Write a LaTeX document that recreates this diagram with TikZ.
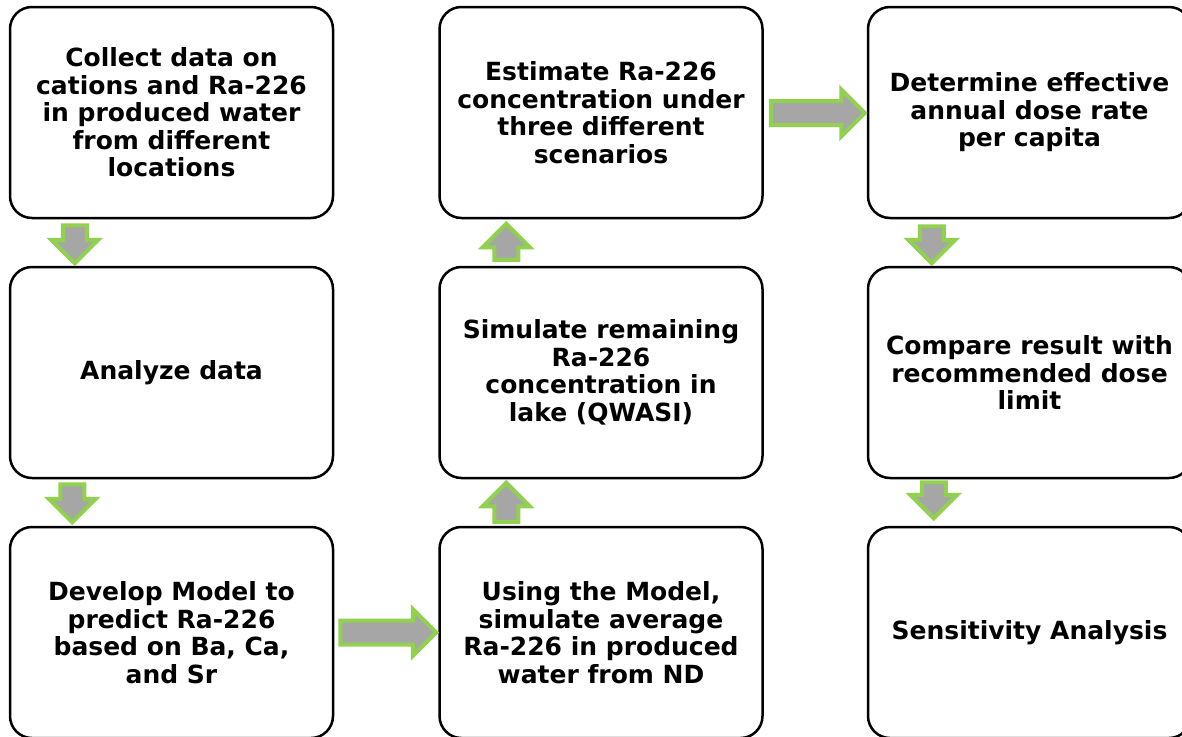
\documentclass[tikz,border=0pt]{standalone}
\usepackage{fontspec}
\setmainfont{DejaVu Sans}
\usetikzlibrary{shapes.arrows,calc}
\definecolor{arrgray}{HTML}{A6A6A6}
\definecolor{arrgreen}{HTML}{92D050}
\begin{document}
\begin{tikzpicture}[x=1pt,y=-1pt,
  box/.style={draw=black,line width=2.5pt,rounded corners=22pt,minimum width=323pt,minimum height=211pt,
    align=center,inner sep=0pt,font=\fontsize{25}{27.5}\selectfont\bfseries},
  blk/.style={single arrow,fill=arrgray,draw=arrgreen,line width=4pt,inner xsep=0pt,inner ysep=10pt,outer sep=0pt,
    single arrow head extend=11.5pt,single arrow head indent=0pt,anchor=tail},
  vdown/.style={blk,rotate=-90},
  vup/.style={blk,rotate=90}]
\useasboundingbox (0,0) rectangle (1182,736);
\clip (0,0) rectangle (1182,736);
% boxes
\node[box] (b11) at (171.5,112.5) {Collect data on\\cations and Ra-226\\in produced water\\from different\\locations};
\node[box] (b21) at (171.5,372.5) {Analyze data};
\node[box] (b31) at (171.5,632.5) {Develop Model to\\predict Ra-226\\based on Ba, Ca,\\and Sr};
\node[box] (b12) at (601,112.5) {Estimate Ra-226\\concentration under\\three different\\scenarios};
\node[box] (b22) at (601,372.5) {Simulate remaining\\Ra-226\\concentration in\\lake (QWASI)};
\node[box] (b32) at (601,632.5) {Using the Model,\\simulate average\\Ra-226 in produced\\water from ND};
\node[box] (b13) at (1029.5,112.5) {Determine effective\\annual dose rate\\per capita};
\node[box] (b23) at (1029.5,372.5) {Compare result with\\recommended dose\\limit};
\node[box] (b33) at (1029.5,632.5) {Sensitivity Analysis};
% block arrows
\node[vdown,minimum height=38pt] (a1) at ($(b11.south west)+(66,6)$) {};
\node[vdown,minimum height=38pt] (a2) at ($(b21.south west)+(63.5,5)$) {};
\node[blk,minimum height=96pt] (a3) at ($(b31.east)+(6,0)$) {};
\node[vup,minimum height=39pt] (a4) at ($(b32.north west)+(68,-4)$) {};
\node[vup,minimum height=36pt] (a5) at ($(b22.north west)+(68,-6)$) {};
\node[blk,minimum height=94pt] (a6) at ($(b12.east)+(7,0.5)$) {};
\node[vdown,minimum height=37pt] (a7) at ($(b13.south west)+(65,7)$) {};
\node[vdown,minimum height=36pt] (a8) at ($(b23.south west)+(67,3)$) {};
\end{tikzpicture}
\end{document}
